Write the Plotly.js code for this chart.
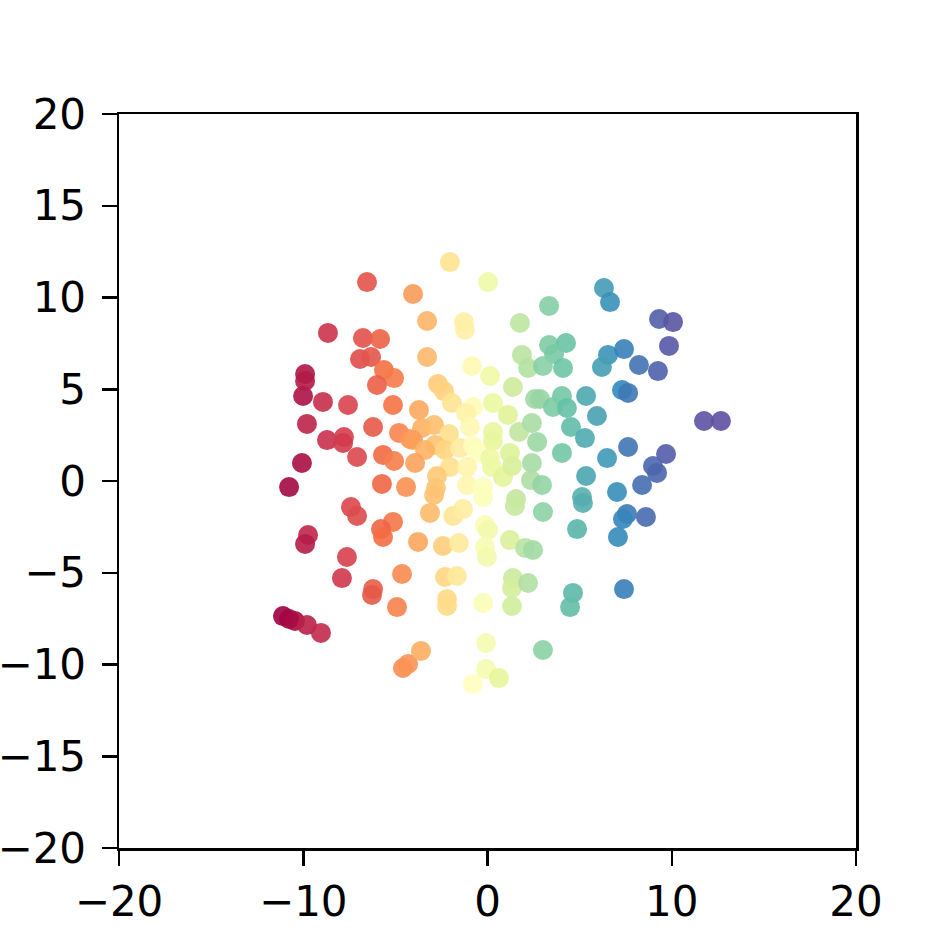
<!DOCTYPE html>
<html>
<head>
<meta charset="utf-8">
<script src="https://cdn.plot.ly/plotly-3.0.1.min.js"></script>
<style>html,body{margin:0;padding:0;background:#fff;}#chart{width:952px;height:952px;}</style>
</head>
<body>
<div id="chart"></div>
<script>
// Point coordinates
const xValues = [
 -11.10,-10.77,-10.45,-9.80,-9.04,-10.77,-10.07,-10.01,-9.90,-9.90,
 -9.80,-9.74,-9.90,-8.93,-8.66,-8.71,-7.79,-7.84,-7.57,-7.08,
 -7.41,-7.08,-7.63,-7.90,-6.54,-6.76,-5.83,-6.92,-6.32,-5.62,
 -5.07,-6.00,-5.13,-6.21,-4.80,-4.21,-5.67,-5.07,-5.73,-4.42,
 -5.13,-5.78,-5.67,-6.21,-6.27,-4.91,-4.64,-4.59,-4.31,
 -4.04,-3.28,-3.28,-3.72,-2.69,-2.36,-1.93,-3.55,-2.90,-2.09,
 -4.04,-2.85,-3.39,-2.31,-3.93,-2.04,-2.74,-2.80,-2.90,-3.12,
 -1.87,-1.33,-3.77,-2.42,-1.55,-2.31,-1.66,-2.20,-2.20,-3.61,-2.04,
 -1.28,-1.22,-0.84,-0.79,-1.17,-0.95,-1.49,-0.79,-0.52,-1.11,
 -1.11,-0.24,-0.24,-0.14,0.03,-0.14,-0.03,-0.24,-0.08,-0.08,
 -0.79,0.62,0.03,0.14,0.30,0.30,0.30,0.14,0.24,0.84,
 1.38,1.11,1.22,1.33,1.55,1.49,1.22,1.38,1.33,1.33,
 1.71,1.76,1.87,2.20,2.41,2.69,2.41,2.36,2.96,3.01,
 2.04,2.47,2.20,3.01,2.58,2.85,
 3.34,3.34,4.26,3.61,3.01,4.10,4.04,3.55,4.31,5.35,
 5.94,4.53,5.29,4.04,6.49,5.35,5.13,5.18,4.86,4.64,4.48,
 6.32,6.65,6.54,6.21,7.41,8.22,9.25,7.30,7.63,7.63,
 9.69,8.98,9.20,8.39,7.03,7.57,7.35,8.60,7.08,7.41,
 9.31,10.07,9.85,11.75,12.67
];
const yValues = [
 -7.36,-7.52,-7.63,-7.85,-8.28,-0.33,0.98,4.63,5.83,5.45,
 3.11,-2.94,-3.43,4.31,8.07,2.23,2.40,2.07,4.14,1.31,
 -1.42,-1.91,-4.14,-5.29,10.84,7.79,7.74,6.65,6.76,6.05,
 5.61,5.23,4.14,2.94,2.62,2.29,1.42,1.09,-0.16,-0.33,
 -2.23,-2.62,-3.05,-5.89,-6.21,-6.87,-5.07,-10.19,-9.97,
 10.19,8.72,6.76,3.87,5.29,4.90,4.25,2.89,3.05,2.56,
 2.23,1.96,1.69,1.69,0.98,0.76,0.27,-0.38,-0.76,-1.74,
 -1.91,-1.53,-3.32,-3.54,-3.38,-5.23,-5.18,-6.43,-6.81,-9.26,11.93,
 8.66,8.23,6.27,4.03,3.71,2.94,1.80,1.91,1.53,0.76,
 -0.22,-0.33,-0.87,-2.40,-2.67,-3.60,-4.14,-6.65,-8.83,-10.25,
 -11.06,-10.74,10.84,5.72,4.25,2.67,2.18,1.25,0.76,0.22,
 5.12,3.60,1.53,0.82,-0.98,-1.36,-3.22,-5.29,-5.83,-6.81,
 2.67,8.61,6.87,6.16,3.16,2.13,0.98,0.05,-0.22,-1.69,
 -3.65,-3.76,-5.56,-9.21,4.47,4.47,
 9.54,7.41,7.52,6.92,6.27,6.16,4.63,4.03,3.98,4.63,
 3.54,2.94,2.34,1.53,1.25,0.27,-0.87,-1.20,-2.62,-6.10,-6.87,
 10.52,9.75,6.87,6.21,7.19,6.32,5.99,4.96,4.80,1.85,
 1.47,0.82,0.44,-0.22,-0.60,-1.80,-2.07,-1.96,-3.05,-5.89,
 8.83,8.66,7.36,3.27,3.27
];
const xTicks = [-20, -10, 0, 10, 20];
const yTicks = [-20, -15, -10, -5, 0, 5, 10, 15, 20];

const spectral = ['#9e0142','#d53e4f','#f46d43','#fdae61','#fee08b','#ffffbf','#e6f598','#abdda4','#66c2a5','#3288bd','#5e4fa2'];
const colorscale = spectral.map((c, i) => [i / (spectral.length - 1), c]);

// colour by the rank of x (points ordered left to right)
const order = xValues.map((v, i) => i).sort((a, b) => xValues[a] - xValues[b]);
const rank = new Array(xValues.length);
order.forEach((idx, r) => { rank[idx] = r; });

const trace = {
  type: 'scatter',
  mode: 'markers',
  x: xValues,
  y: yValues,
  marker: {
    size: 20,
    color: rank,
    colorscale: colorscale,
    cmin: 0,
    cmax: xValues.length - 1,
    opacity: 0.9,
    line: {width: 0}
  },
  hoverinfo: 'x+y'
};

const axisCommon = {
  showgrid: false,
  zeroline: false,
  showline: true,
  mirror: true,
  linecolor: '#000',
  linewidth: 2.5,
  ticks: 'outside',
  ticklen: 15,
  tickwidth: 2.5,
  tickcolor: '#000',
  tickfont: {family: 'DejaVu Sans', size: 42, color: '#000'},
  automargin: false,
  fixedrange: true
};

const fmt = v => v < 0 ? '\u2212' + Math.abs(v) : String(v);

const layout = {
  width: 952,
  height: 952,
  margin: {l: 119, r: 96, t: 114, b: 104, pad: 0},
  paper_bgcolor: '#fff',
  plot_bgcolor: '#fff',
  showlegend: false,
  xaxis: Object.assign({}, axisCommon, {range: [-20, 20], tickmode: 'array', tickvals: xTicks, ticktext: xTicks.map(fmt)}),
  yaxis: Object.assign({}, axisCommon, {range: [-20, 20], tickmode: 'array', tickvals: yTicks, ticktext: yTicks.map(fmt), ticklabelstandoff: 7})
};

Plotly.newPlot('chart', [trace], layout, {displayModeBar: false, staticPlot: true});
</script>
</body>
</html>
